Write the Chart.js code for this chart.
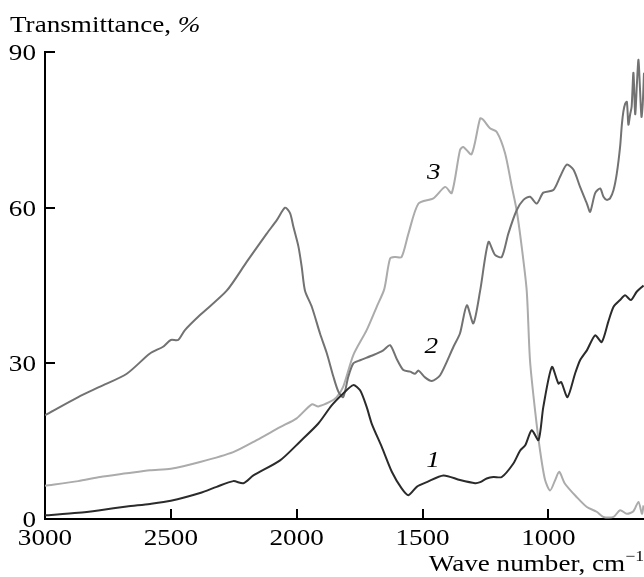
<!DOCTYPE html>
<html lang="en">
<head>
    <meta charset="UTF-8">
    <title>Transmittance spectra</title>
    <!-- Chart.js from CDN -->
    <script src="https://cdn.jsdelivr.net/npm/chart.js"></script>
    <style>
        html, body { margin: 0; padding: 0; background: #fff; }
        #wrap { width: 644px; height: 577px; }
    </style>
</head>
<body>
    <div id="wrap">
        <canvas id="spectra" width="644" height="577"></canvas>
    </div>
    <script>
        // Tick labels of the axes
        const xTicks = [3000, 2500, 2000, 1500, 1000];
        const yTicks = [0, 30, 60, 90];

        // Curve 1 (dark)
        const curve1Wn = [3000, 2868, 2781, 2675, 2583, 2500, 2384, 2318, 2252, 2212, 2172, 2066, 1987, 1914, 1861, 1815,
            1775, 1748, 1722, 1702, 1662, 1622, 1583, 1556, 1523, 1483, 1417, 1351, 1291, 1271, 1245, 1218, 1185,
            1139, 1112, 1092, 1066, 1039, 1020, 986, 960, 949, 924, 894, 874, 847, 814, 788, 762, 741, 715, 695,
            672, 649, 622];
        const curve1T = [0.7, 1.2, 1.7, 2.4, 2.9, 3.5, 5.0, 6.2, 7.3, 6.9, 8.4, 11.3, 14.9, 18.4, 21.9, 24.2,
            25.8, 24.8, 21.6, 18.4, 13.9, 9.1, 5.9, 4.6, 6.2, 7.1, 8.4, 7.5, 6.9, 7.1, 7.8, 8.1, 8.1,
            10.7, 13.2, 14.2, 17.1, 15.2, 21.6, 29.3, 26.1, 26.4, 23.5, 28.0, 30.6, 32.5, 35.4, 34.1, 38.0, 40.9, 42.2, 43.1,
            42.2, 43.8, 45.0];

        // Curve 2 (medium grey)
        const curve2Wn = [3000, 2868, 2781, 2675, 2583, 2531, 2500, 2471, 2444, 2384, 2278, 2198, 2119, 2079, 2046, 2026,
            2013, 1993, 1980, 1967, 1940, 1907, 1880, 1854, 1834, 1815, 1795, 1775, 1748, 1695, 1656, 1629, 1603,
            1576, 1549, 1530, 1516, 1490, 1463, 1430, 1377, 1351, 1324, 1298, 1271, 1238, 1212, 1185, 1159, 1126, 1099,
            1073, 1046, 1020, 980, 953, 927, 900, 874, 847, 834, 814, 794, 781, 768, 755, 741, 728, 715, 708, 702,
            695, 688, 682, 675, 669, 662, 655, 648, 642, 636, 630, 625, 620];
        const curve2T = [20.0, 23.5, 25.5, 28.0, 31.9, 33.2, 34.5, 34.5, 36.4, 39.3, 44.0, 49.6, 55.0, 57.6, 60.0, 58.9,
            56.3, 52.5, 48.6, 44.0, 40.9, 35.7, 31.9, 27.4, 24.5, 23.5, 27.4, 30.0, 30.6, 31.6, 32.5, 33.5, 30.9,
            28.7, 28.4, 28.0, 28.6, 27.3, 26.6, 27.7, 33.2, 35.8, 41.2, 37.7, 44.0, 53.4, 50.9, 50.5, 55.0, 59.5, 61.5,
            62.1, 60.8, 62.9, 63.4, 66.0, 68.3, 67.3, 64.0, 60.8, 59.2, 62.8, 63.7, 62.1, 61.5, 61.8, 63.4, 66.6, 71.7, 76.0, 78.5,
            80.0, 80.4, 76.0, 78.0, 79.5, 86.0, 78.0, 84.0, 88.5, 83.0, 77.5, 80.0, 86.0];

        // Curve 3 (light grey)
        const curve3Wn = [3000, 2868, 2781, 2675, 2583, 2500, 2384, 2252, 2159, 2066, 2000, 1940, 1914, 1867, 1841, 1815,
            1775, 1722, 1682, 1652, 1629, 1609, 1583, 1556, 1516, 1457, 1410, 1384, 1351, 1338, 1305, 1271, 1258,
            1232, 1205, 1172, 1145, 1126, 1106, 1086, 1073, 1053, 1033, 1013, 993, 973, 957, 934, 887, 847, 808,
            781, 741, 715, 688, 662, 642, 628, 622];
        const curve3T = [6.4, 7.3, 8.1, 8.8, 9.4, 9.7, 11.0, 12.9, 15.2, 17.7, 19.4, 22.1, 21.7, 22.6, 23.5, 25.5,
            31.6, 36.4, 40.9, 44.3, 50.2, 50.5, 50.5, 55.0, 60.8, 61.8, 64.0, 62.8, 71.1, 71.7, 70.3, 77.2, 76.9,
            75.3, 74.6, 70.5, 64.0, 59.5, 52.5, 44.0, 30.6, 21.0, 13.2, 7.5, 5.5, 7.5, 9.1, 6.8, 4.2, 2.3, 1.4,
            0.4, 0.4, 1.7, 1.0, 1.5, 3.3, 1.0, 2.6];

        // Curve numbers placed next to the lines
        const curveLabels = ['1', '2', '3'];
        const labelWn = [1458, 1465, 1455];
        const labelT = [11.6, 33.5, 67.0];

        const serif = '"Liberation Serif", "DejaVu Serif", serif';
        // the original lettering is a bit wider than Times, so text gets stretched
        const stretch = 1.18;

        function toPoints(wn, t) {
            return wn.map((x, i) => ({ x: x, y: t[i] }));
        }

        // text drawn with a horizontal stretch; align = left | center | right
        function wideText(ctx, str, x, y, font, align) {
            ctx.font = font;
            const w = ctx.measureText(str).width * stretch;
            let left = x;
            if (align === 'center') left = x - w / 2;
            if (align === 'right') left = x - w;
            ctx.save();
            ctx.translate(left, y);
            ctx.scale(stretch, 1);
            ctx.textAlign = 'left';
            ctx.fillText(str, 0, 0);
            ctx.restore();
            return w;
        }

        function textWidth(ctx, str, font) {
            ctx.font = font;
            return ctx.measureText(str).width * stretch;
        }

        // Draws inner ticks, tick labels, axis titles and curve numbers
        const decorations = {
            id: 'decorations',
            afterDraw(chart) {
                const ctx = chart.ctx;
                const xs = chart.scales.x;
                const ys = chart.scales.y;
                const area = chart.chartArea;
                const tickFont = '23px ' + serif;
                ctx.save();
                ctx.strokeStyle = '#000';
                ctx.lineWidth = 2;
                ctx.beginPath();
                xTicks.forEach(v => {
                    if (v === 3000) return;
                    const px = Math.round(xs.getPixelForValue(v));
                    ctx.moveTo(px, area.bottom);
                    ctx.lineTo(px, area.bottom - 10);
                });
                yTicks.forEach(v => {
                    if (v === 0) return;
                    const py = Math.round(ys.getPixelForValue(v));
                    ctx.moveTo(area.left, py);
                    ctx.lineTo(area.left + 10, py);
                });
                ctx.stroke();

                ctx.fillStyle = '#000';
                ctx.textBaseline = 'alphabetic';

                // tick labels
                xTicks.forEach(v => {
                    wideText(ctx, String(v), xs.getPixelForValue(v), 545, tickFont, 'center');
                });
                yTicks.forEach(v => {
                    wideText(ctx, String(v), 36, ys.getPixelForValue(v) + 8, tickFont, 'right');
                });

                // y axis title
                const w1 = wideText(ctx, 'Transmittance, ', 10, 32, '23px ' + serif, 'left');
                wideText(ctx, '%', 10 + w1, 32, 'italic 23px ' + serif, 'left');

                // x axis title, right aligned with a superscript
                const sup = '\u22121';
                const supW = textWidth(ctx, sup, '15px ' + serif);
                const xTitle = 'Wave number, cm';
                const xTitleW = textWidth(ctx, xTitle, '23px ' + serif);
                const startX = 644 - supW - xTitleW;
                wideText(ctx, xTitle, startX, 571, '23px ' + serif, 'left');
                wideText(ctx, sup, startX + xTitleW, 561, '15px ' + serif, 'left');

                // curve numbers
                curveLabels.forEach((s, i) => {
                    wideText(ctx, s, xs.getPixelForValue(labelWn[i]), ys.getPixelForValue(labelT[i]) + 8,
                        'italic 23px ' + serif, 'center');
                });
                ctx.restore();
            }
        };

        new Chart(document.getElementById('spectra'), {
            type: 'line',
            data: {
                datasets: [
                    { label: '1', data: toPoints(curve1Wn, curve1T), borderColor: '#2b2b2b' },
                    { label: '2', data: toPoints(curve2Wn, curve2T), borderColor: '#727272' },
                    { label: '3', data: toPoints(curve3Wn, curve3T), borderColor: '#ababab' }
                ]
            },
            options: {
                responsive: false,
                animation: false,
                layout: { padding: { top: 52, right: 0, left: 0, bottom: 0 } },
                elements: {
                    point: { radius: 0 },
                    line: { borderWidth: 2, tension: 0.25, fill: false }
                },
                plugins: {
                    legend: { display: false },
                    tooltip: { enabled: false }
                },
                scales: {
                    x: {
                        type: 'linear',
                        reverse: true,
                        min: 620,
                        max: 3000,
                        afterBuildTicks: scale => { scale.ticks = xTicks.map(v => ({ value: v })); },
                        afterFit: scale => { scale.height = 58; },
                        grid: { display: true, drawOnChartArea: false, drawTicks: false },
                        border: { display: true, color: '#000', width: 2 },
                        ticks: { display: false }
                    },
                    y: {
                        min: 0,
                        max: 90,
                        afterBuildTicks: scale => { scale.ticks = yTicks.map(v => ({ value: v })); },
                        afterFit: scale => { scale.width = 45; },
                        grid: { display: true, drawOnChartArea: false, drawTicks: false },
                        border: { display: true, color: '#000', width: 2 },
                        ticks: { display: false }
                    }
                }
            },
            plugins: [decorations]
        });
    </script>
</body>
</html>
